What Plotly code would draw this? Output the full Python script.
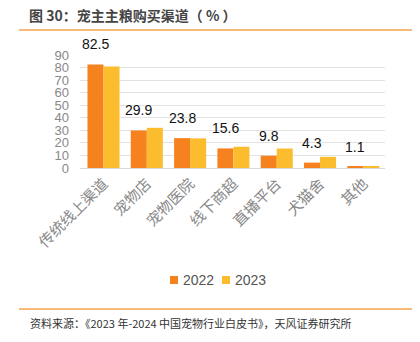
import plotly.graph_objects as go

categories = ["传统线上渠道", "宠物店", "宠物医院", "线下商超", "直播平台", "犬猫舍", "其他"]
values_2022 = [82.5, 29.9, 23.8, 15.6, 9.8, 4.3, 1.1]
values_2023 = [80.8, 32.0, 23.6, 16.9, 15.5, 8.9, 1.2]
label_values = values_2022
series_names = ["2022", "2023"]
y_ticks = [0, 10, 20, 30, 40, 50, 60, 70, 80, 90]

ORANGE = "#F5821F"
YELLOW = "#FBBC2D"
FONT = "Liberation Sans, Noto Sans CJK SC, sans-serif"
CJK = "Noto Sans CJK SC, sans-serif"

L, R, T, B = 80, 35, 55, 174
W, H = 420, 342
pw = W - L - R
ph = H - T - B

def px(x):
    return (x - L) / pw

def py(y):
    return (H - B - y) / ph

fig = go.Figure()
fig.add_trace(go.Bar(name=series_names[0], x=categories, y=values_2022, marker_color=ORANGE,
                     marker_line_width=0, showlegend=False))
fig.add_trace(go.Bar(name=series_names[1], x=categories, y=values_2023, marker_color=YELLOW,
                     marker_line_width=0, showlegend=False))

annotations = []
for c, v in zip(categories, label_values):
    annotations.append(dict(x=c, y=v, xref="x", yref="y", text=f"{v}", showarrow=False,
                            xshift=-8, yshift=10, yanchor="bottom",
                            font=dict(family=FONT, size=14, color="#111111")))

annotations.append(dict(x=px(27), y=py(15), xref="paper", yref="paper", xanchor="left",
                        yanchor="middle", showarrow=False,
                        text="<b>图 30：宠主主粮购买渠道（ % ）</b>",
                        font=dict(family=CJK, size=14, color="#444444")))
annotations.append(dict(x=px(28), y=py(323), xref="paper", yref="paper", xanchor="left",
                        yanchor="middle", showarrow=False,
                        text="资料来源：《2023 年-2024 中国宠物行业白皮书》，天风证券研究所",
                        font=dict(family=CJK, size=11, color="#333333")))

shapes = [
    dict(type="line", xref="paper", yref="paper", x0=px(19), x1=px(412), y0=py(30), y1=py(30),
         line=dict(color="#F7A24B", width=1.5)),
    dict(type="line", xref="paper", yref="paper", x0=px(19), x1=px(412), y0=py(309), y1=py(309),
         line=dict(color="#F7A24B", width=1.5)),
]

# legend drawn manually (small squares + labels)
legend_items = [(170, ORANGE, series_names[0]), (222, YELLOW, series_names[1])]
for x0, col, name in legend_items:
    shapes.append(dict(type="rect", xref="paper", yref="paper",
                       x0=px(x0), x1=px(x0 + 8), y0=py(276), y1=py(284),
                       fillcolor=col, line=dict(width=0)))
    annotations.append(dict(x=px(x0 + 11), y=py(280), xref="paper", yref="paper",
                            xanchor="left", yanchor="middle", showarrow=False, text=name,
                            font=dict(family=FONT, size=14, color="#555555")))

fig.update_layout(
    width=W, height=H,
    margin=dict(l=L, r=R, t=T, b=B),
    paper_bgcolor="white", plot_bgcolor="white",
    barmode="group", bargap=0.26, bargroupgap=0,
    font=dict(family=FONT, color="#777777"),
    showlegend=False,
    xaxis=dict(tickangle=-45, tickfont=dict(family=CJK, size=15, color="#888888"),
               showline=True, linecolor="#D9D9D9", linewidth=1, ticks=""),
    yaxis=dict(range=[0, 90], tickvals=y_ticks, showgrid=True, gridcolor="#E2E2E2",
               gridwidth=1, zeroline=False, tickfont=dict(family=FONT, size=13, color="#888888"),
               ticks="", ticklabelstandoff=10),
    annotations=annotations,
    shapes=shapes,
)

fig.write_html("out.html")
